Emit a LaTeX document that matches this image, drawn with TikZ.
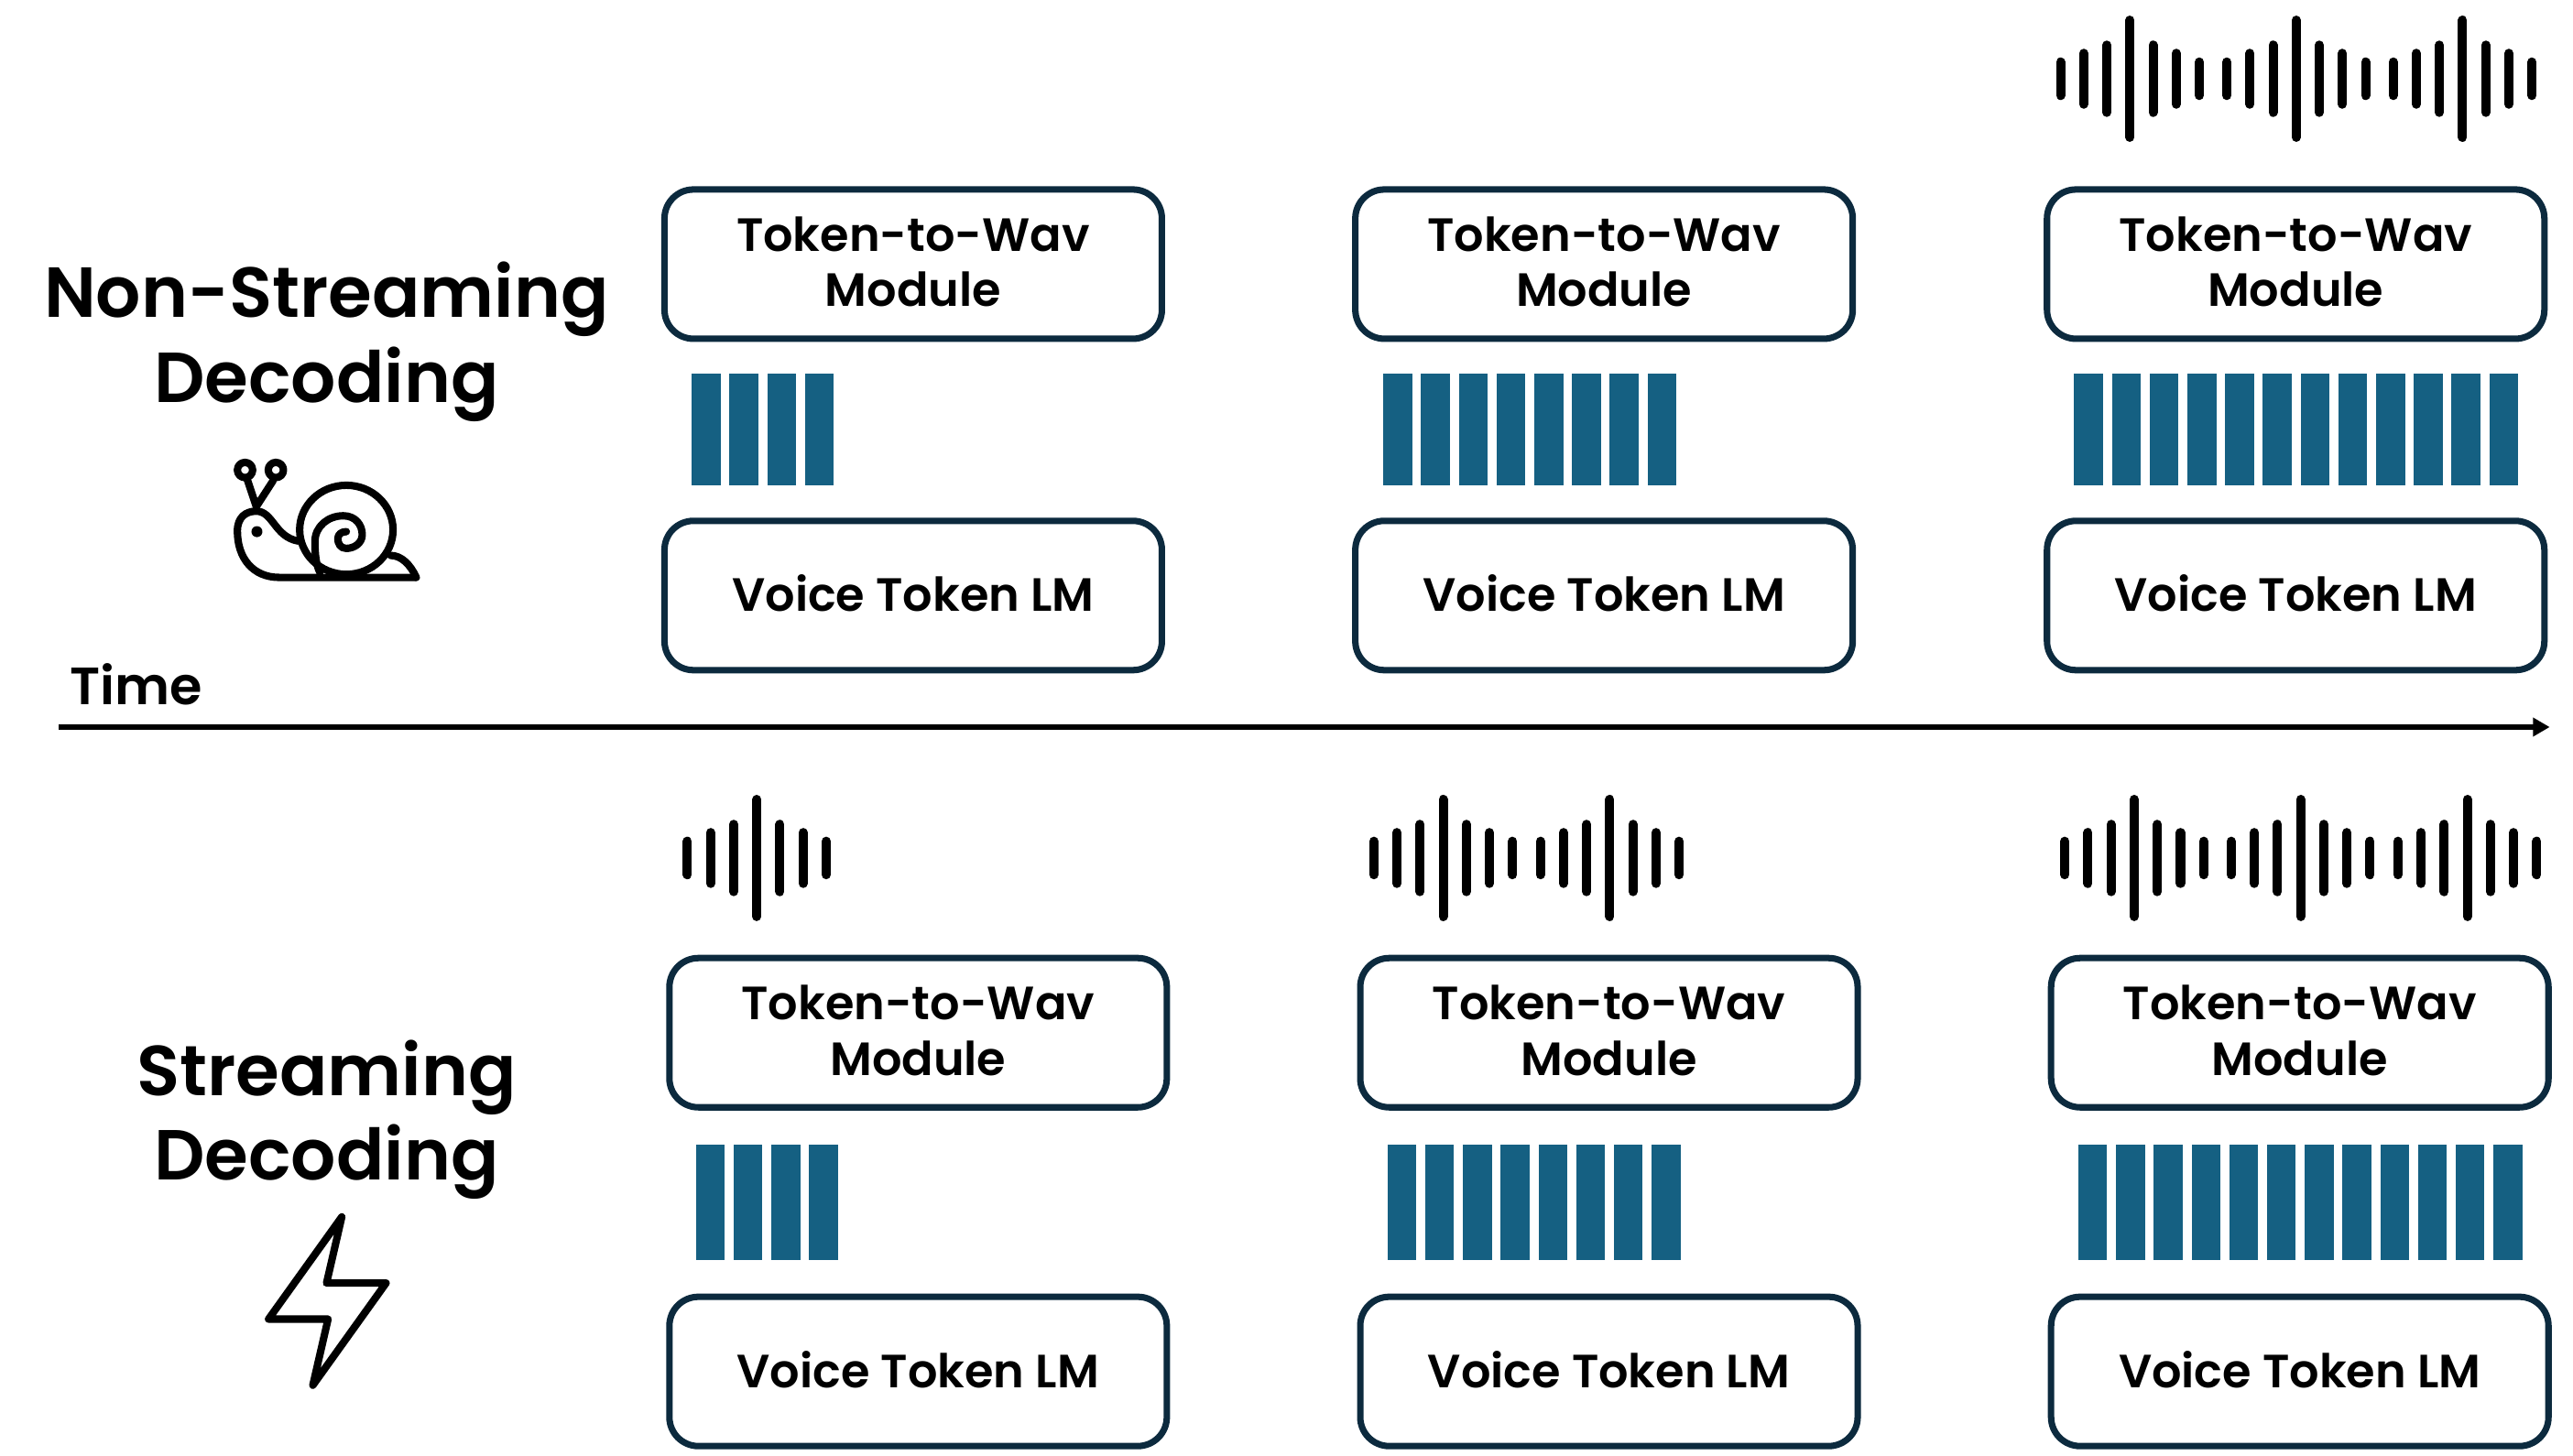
\documentclass[tikz,border=0pt]{standalone}
\usepackage{fontspec}
\setmainfont{Poppins}[UprightFont=* SemiBold]
\usepackage{xcolor}
\usetikzlibrary{arrows.meta,positioning}
\definecolor{tokenblue}{HTML}{156082}
\definecolor{boxedge}{HTML}{0C2A3E}
\tikzset{
  modulebox/.style={draw=boxedge,line width=2pt,rounded corners=9pt,fill=white,minimum width=5.43cm,minimum height=1.63cm,align=center,font=\fontsize{14.5}{17.3}\selectfont},
  sidelabel/.style={align=center,font=\fontsize{22}{26.4}\selectfont},
  tokenblock/.style={fill=tokenblue},
  waveline/.style={black,line width=2.85pt,line cap=round},
  iconline/.style={black,line width=2.3pt,line cap=round,line join=round},
}
\begin{document}
\begin{tikzpicture}[x=0.017915cm,y=-0.017915cm]
  \useasboundingbox (0,0) rectangle (1568,887.5);
  % side labels
  \node[sidelabel] (nonstreaming) at (199,208.5) {Non-Streaming\\Decoding};
  \node[sidelabel] (streaming) at (199,682.5) {Streaming\\Decoding};
  % time axis
  \node[font=\fontsize{16.3}{18}\selectfont] (timelabel) at (83,417) {Time};
  \coordinate (timestart) at (36,443.2);
  \coordinate (timeend) at (1553.8,443.2);
  \draw[black,line width=1.8pt,-{Triangle[length=5.2pt,width=5.6pt]}] (timestart) -- (timeend);
  % modules
  \foreach \cx/\name in {556.5/A,977.5/B,1399/C}{
    \node[modulebox] (topwav\name) at (\cx,161) {\raisebox{1.5pt}{\shortstack{Token-to-Wav\\[3.3pt]Module}}};
    \node[modulebox] (toplm\name) at (\cx,363) {\raisebox{1.5pt}{Voice Token LM}};
  }
  \foreach \cx/\name in {559.5/A,980.5/B,1401.5/C}{
    \node[modulebox] (botwav\name) at (\cx,629.5) {\raisebox{1.5pt}{\shortstack{Token-to-Wav\\[3.3pt]Module}}};
    \node[modulebox] (botlm\name) at (\cx,836) {\raisebox{1.5pt}{Voice Token LM}};
  }
  % token blocks
  \foreach \bx/\by/\bh/\bn in {421.5/228/68/4,843/228/68/8,1264/228/68/12,424/698/70/4,845.5/698/70/8,1266.5/698/70/12}{
    \foreach \i in {1,...,\bn}
      \fill[tokenblock] (\bx+23*\i-23,\by) rectangle ++(17.6,\bh);
  }
  % waveforms
  \foreach \cx/\cy in {461.2/523,879.5/523,981/523,1298/48,1399.3/48,1500.7/48,1300.6/523,1402/523,1503.6/523}{
    \foreach \dx/\hh in {-42.3/10.2,-28.2/15.5,-14.1/20.5,0/35.7,14.1/20.5,28.2/15.5,42.3/10.2}
      \draw[waveline] (\cx+\dx,\cy-\hh) -- (\cx+\dx,\cy+\hh);
  }
  % snail
  \begin{scope}[shift={(128.3,267.9)},scale=0.186]
    \draw[iconline] (113,100) circle (25);
    \draw[iconline] (214,100) circle (25);
    \draw[iconline] (120,130) -- (150,220) -- (205,135);
    \draw[iconline] (674,452) -- (225,452) .. controls (140,452) and (88,390) .. (88,300)
      .. controls (88,255) and (115,235) .. (150,235) .. controls (205,235) and (210,320) .. (288,333);
    \draw[iconline] (445,296) ellipse (153 and 146);
    \draw[iconline] (358,435) .. controls (345,410) and (342,370) .. (342,335) .. controls (342,285) and (385,250) .. (435,250)
      .. controls (475,250) and (497,280) .. (497,312) .. controls (497,340) and (470,357) .. (445,357)
      .. controls (425,357) and (417,340) .. (417,325) .. controls (417,310) and (430,302) .. (445,302);
    \draw[iconline] (674,452) .. controls (655,410) and (625,380) .. (590,380);
    \fill[black] (152,302) circle (18);
  \end{scope}
  % lightning bolt
  \begin{scope}[shift={(133.9,725.4)},scale=0.186]
    \draw[iconline] (400,88) -- (160,423) -- (355,423) -- (305,640) -- (545,305) -- (350,305) -- cycle;
  \end{scope}
\end{tikzpicture}
\end{document}
